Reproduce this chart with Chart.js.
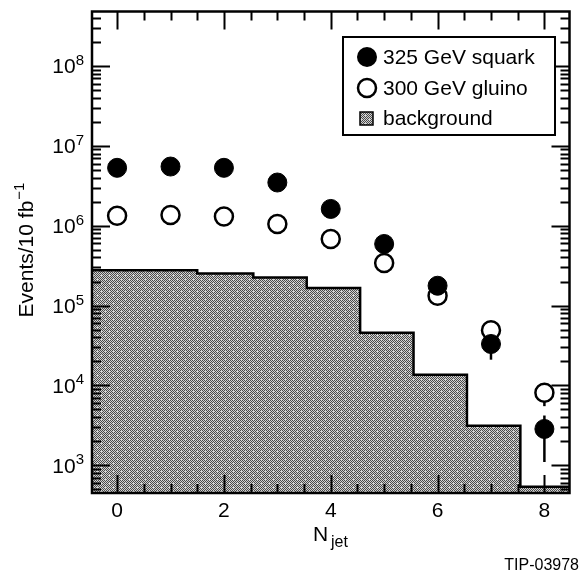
<!DOCTYPE html>
<html>
<head>
<meta charset="utf-8">
<script src="https://cdn.jsdelivr.net/npm/chart.js@4/dist/chart.umd.min.js"></script>
<style>
  html, body { margin: 0; padding: 0; background: #fff; }
  #wrap { width: 581px; height: 575px; }
</style>
</head>
<body>
<div id="wrap"><canvas id="chart" width="581" height="575"></canvas></div>
<script>
// ========== data ==========
const nJet = [0, 1, 2, 3, 4, 5, 6, 7, 8];
const squark = [5.3e6, 5.5e6, 5.3e6, 3.47e6, 1.62e6, 5.9e5, 1.77e5, 3.3e4, 2.85e3];
const gluino = [1.33e6, 1.36e6, 1.3e6, 1.05e6, 6.8e5, 3.4e5, 1.33e5, 4.9e4, 8.1e3];
const squarkErrLow  = [null, null, null, null, null, null, null, 2.1e4, 1.1e3];
const squarkErrHigh = [null, null, null, null, null, null, null, 4.5e4, 4.2e3];
const gluinoErrLow  = [null, null, null, null, null, null, null, null, 5.5e3];
const gluinoErrHigh = [null, null, null, null, null, null, null, null, 1.06e4];
const bgEdges = [-0.5, 0.5, 1.5, 2.55, 3.55, 4.55, 5.55, 6.55, 7.55, 8.5];
const background = [2.77e5, 2.77e5, 2.52e5, 2.25e5, 1.66e5, 4.55e4, 1.36e4, 3.13e3, 538];
const xTickLabels = [0, 2, 4, 6, 8];
const xMinorStep = 0.5;
const yDecades = [3, 4, 5, 6, 7, 8];
const legendLabels = ["325 GeV squark", "300 GeV gluino", "background"];

// ========== settings ==========
const FONT = "'Liberation Sans', Arial, Helvetica, sans-serif";
const X_MIN = -0.47, X_MAX = 8.47;
const Y_MIN = 450, Y_MAX = 4.8e8;

// gray stipple used for the background histogram
function makeStipple() {
  const bayer = [
    [0,32,8,40,2,34,10,42],[48,16,56,24,50,18,58,26],
    [12,44,4,36,14,46,6,38],[60,28,52,20,62,30,54,22],
    [3,35,11,43,1,33,9,41],[51,19,59,27,49,17,57,25],
    [15,47,7,39,13,45,5,37],[63,31,55,23,61,29,53,21]
  ];
  const p = document.createElement("canvas");
  p.width = 8; p.height = 8;
  const g = p.getContext("2d");
  for (let i = 0; i < 8; i++) {
    for (let j = 0; j < 8; j++) {
      g.fillStyle = bayer[i][j] < 30 ? "#4a4a4a" : "#d2d2d2";
      g.fillRect(j, i, 1, 1);
    }
  }
  return g.createPattern(p, "repeat");
}
const stipple = makeStipple();

// histogram outline points (left edge of each bin, plus closing right edge)
const bgPoints = background.map((v, i) => ({ x: bgEdges[i], y: v }));
bgPoints.push({ x: bgEdges[bgEdges.length - 1], y: background[background.length - 1] });

// ========== error bars ==========
function drawErrorBars(chart) {
  const ctx = chart.ctx;
  const xs = chart.scales.x, ys = chart.scales.y;
  ctx.save();
  ctx.strokeStyle = "#000";
  ctx.lineWidth = 2.5;
  const sets = [[squarkErrLow, squarkErrHigh], [gluinoErrLow, gluinoErrHigh]];
  for (const [lo, hi] of sets) {
    for (let i = 0; i < nJet.length; i++) {
      if (lo[i] == null || hi[i] == null) continue;
      const px = xs.getPixelForValue(nJet[i]);
      ctx.beginPath();
      ctx.moveTo(px, ys.getPixelForValue(lo[i]));
      ctx.lineTo(px, ys.getPixelForValue(hi[i]));
      ctx.stroke();
    }
  }
  ctx.restore();
}

// ========== frame, ticks, labels, legend ==========
function drawFrame(chart) {
  const ctx = chart.ctx;
  const a = chart.chartArea;
  const xs = chart.scales.x, ys = chart.scales.y;
  ctx.save();
  ctx.strokeStyle = "#000";
  ctx.fillStyle = "#000";

  // y ticks, left and right
  ctx.lineWidth = 2;
  for (let d = yDecades[0] - 1; d <= yDecades[yDecades.length - 1]; d++) {
    for (let m = 1; m <= 9; m++) {
      const v = m * Math.pow(10, d);
      if (v < Y_MIN || v > Y_MAX) continue;
      const py = Math.round(ys.getPixelForValue(v)) + 0.5;
      const len = m === 1 ? 18 : 9;
      ctx.beginPath();
      ctx.moveTo(a.left, py); ctx.lineTo(a.left + len, py);
      ctx.moveTo(a.right, py); ctx.lineTo(a.right - len, py);
      ctx.stroke();
    }
  }

  // x ticks, bottom and top
  for (let v = 0; v <= X_MAX; v += xMinorStep) {
    const px = Math.round(xs.getPixelForValue(v)) + 0.5;
    const len = xTickLabels.includes(v) ? 18 : 9;
    ctx.beginPath();
    ctx.moveTo(px, a.bottom); ctx.lineTo(px, a.bottom - len);
    ctx.moveTo(px, a.top); ctx.lineTo(px, a.top + len);
    ctx.stroke();
  }

  // frame
  ctx.lineWidth = 2.5;
  ctx.strokeRect(a.left, a.top, a.right - a.left, a.bottom - a.top);

  // x tick labels
  ctx.font = "21px " + FONT;
  ctx.textAlign = "center";
  ctx.textBaseline = "alphabetic";
  for (const v of xTickLabels) {
    ctx.fillText(String(v), xs.getPixelForValue(v), 517);
  }

  // y tick labels 10^n
  for (const d of yDecades) {
    const py = ys.getPixelForValue(Math.pow(10, d));
    ctx.font = "15px " + FONT;
    ctx.textAlign = "right";
    const ew = ctx.measureText(String(d)).width;
    ctx.fillText(String(d), 84, py - 1);
    ctx.font = "21px " + FONT;
    ctx.fillText("10", 84 - ew, py + 7.5);
  }

  // y axis title
  ctx.save();
  ctx.translate(33, 250);
  ctx.rotate(-Math.PI / 2);
  ctx.textAlign = "left";
  ctx.font = "21px " + FONT;
  const main = "Events/10 fb";
  const mw = ctx.measureText(main).width;
  ctx.font = "15px " + FONT;
  const sup = "\u22121";
  const sw = ctx.measureText(sup).width;
  const start = -(mw + sw + 1) / 2;
  ctx.font = "21px " + FONT;
  ctx.fillText(main, start, 0);
  ctx.font = "15px " + FONT;
  ctx.fillText(sup, start + mw + 1, -9);
  ctx.restore();

  // x axis title N_jet
  ctx.textAlign = "left";
  ctx.font = "21px " + FONT;
  ctx.fillText("N", 313, 541);
  ctx.font = "16px " + FONT;
  ctx.fillText("jet", 331, 547);

  // figure tag
  ctx.textAlign = "right";
  ctx.font = "16px " + FONT;
  ctx.fillText("TIP-03978", 579, 570);

  // legend
  ctx.fillStyle = "#fff";
  ctx.fillRect(343, 37, 212, 98);
  ctx.lineWidth = 2;
  ctx.strokeRect(343, 37, 212, 98);
  ctx.fillStyle = "#000";
  ctx.beginPath(); ctx.arc(367, 57, 10, 0, Math.PI * 2); ctx.fill();
  ctx.fillStyle = "#fff";
  ctx.lineWidth = 2.5;
  ctx.beginPath(); ctx.arc(367, 88, 9, 0, Math.PI * 2); ctx.fill(); ctx.stroke();
  ctx.fillStyle = stipple;
  ctx.fillRect(360, 112, 13, 13);
  ctx.lineWidth = 1.5;
  ctx.strokeRect(360, 112, 13, 13);
  ctx.fillStyle = "#000";
  ctx.textAlign = "left";
  ctx.font = "21px " + FONT;
  ctx.fillText(legendLabels[0], 383, 64);
  ctx.fillText(legendLabels[1], 383, 94.5);
  ctx.fillText(legendLabels[2], 383, 125);

  ctx.restore();
}

const framePlugin = {
  id: "framePlugin",
  afterDatasetDraw(chart, args) {
    if (args.index === 2) drawErrorBars(chart);
  },
  afterDraw(chart) {
    drawFrame(chart);
  }
};

// ========== chart ==========
new Chart(document.getElementById("chart").getContext("2d"), {
  type: "scatter",
  data: {
    datasets: [
      {
        label: legendLabels[0],
        data: nJet.map((x, i) => ({ x: x, y: squark[i] })),
        backgroundColor: "#000",
        borderColor: "#000",
        borderWidth: 1,
        pointRadius: 9.5,
        pointHoverRadius: 9.5
      },
      {
        label: legendLabels[1],
        data: nJet.map((x, i) => ({ x: x, y: gluino[i] })),
        backgroundColor: "#fff",
        borderColor: "#000",
        borderWidth: 2.5,
        pointRadius: 9,
        pointHoverRadius: 9
      },
      {
        type: "line",
        label: legendLabels[2],
        data: bgPoints,
        stepped: "before",
        fill: "start",
        backgroundColor: stipple,
        borderColor: "#000",
        borderWidth: 2.5,
        pointRadius: 0,
        showLine: true
      }
    ]
  },
  options: {
    responsive: false,
    animation: false,
    events: [],
    layout: { padding: { left: 92, top: 6, right: 3, bottom: 82 } },
    plugins: { legend: { display: false }, tooltip: { enabled: false } },
    scales: {
      x: { type: "linear", min: X_MIN, max: X_MAX, display: false },
      y: { type: "logarithmic", min: Y_MIN, max: Y_MAX, display: false }
    }
  },
  plugins: [framePlugin]
});
</script>
</body>
</html>
